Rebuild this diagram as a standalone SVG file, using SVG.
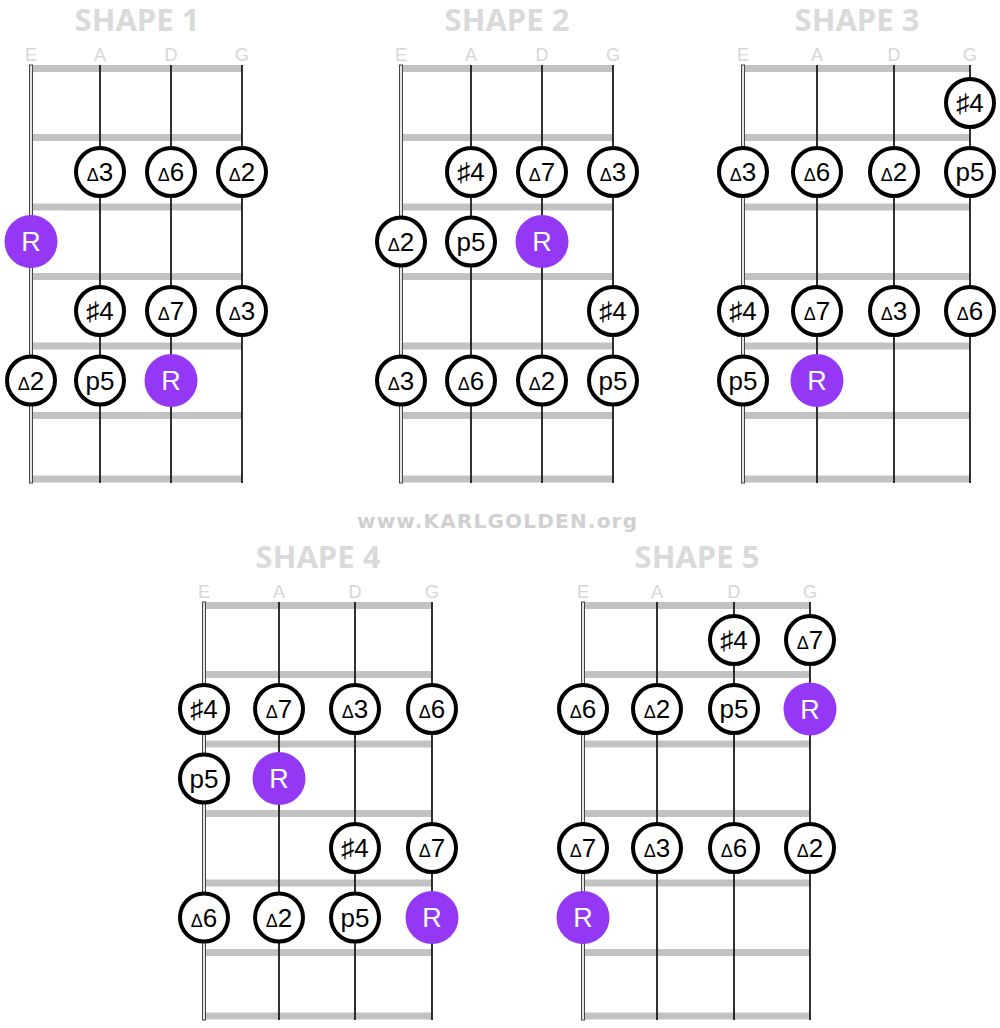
<svg xmlns="http://www.w3.org/2000/svg" width="1000" height="1028" viewBox="0 0 1000 1028">
<style>
.bar{fill:#c2c2c2}
.str{stroke:#1a1a1a;stroke-width:1.8}
.nut{fill:#e4e4e4;stroke:#444;stroke-width:1}
.title{font-family:"Open Sans","Liberation Sans",sans-serif;font-weight:700;font-size:31px;fill:#dadada;text-anchor:middle}
.lbl{font-family:"Liberation Sans",sans-serif;font-size:18px;fill:#d6d6d6;text-anchor:middle}
.wm{font-family:"DejaVu Sans","Liberation Sans",sans-serif;font-weight:700;font-size:20px;fill:#d0d0d0;text-anchor:middle}
.n circle{fill:#fff;stroke:#000;stroke-width:4}
.r circle{fill:#9538f6}
.n text,.r text{font-family:"Liberation Sans","DejaVu Sans",sans-serif;font-size:26px;text-anchor:middle;fill:#000}
.r text{fill:#fff;font-size:27px}
.d{font-size:18px}
</style>
<rect width="1000" height="1028" fill="#fff"/>

<g id="titles">
<text class="title" x="137" y="31">SHAPE 1</text>
<text class="title" x="507" y="31">SHAPE 2</text>
<text class="title" x="857" y="31">SHAPE 3</text>
<text class="title" x="318" y="568">SHAPE 4</text>
<text class="title" x="697" y="568">SHAPE 5</text>
<text class="wm" x="497" y="528" textLength="280" lengthAdjust="spacing">www.KARLGOLDEN.org</text>
</g>

<g id="board1">
<text class="lbl" x="31" y="61">E</text><text class="lbl" x="100" y="61">A</text><text class="lbl" x="171" y="61">D</text><text class="lbl" x="242" y="61">G</text>
<rect class="bar" x="33" y="65" width="209" height="7"/>
<rect class="bar" x="33" y="134" width="209" height="7"/>
<rect class="bar" x="33" y="203.5" width="209" height="7"/>
<rect class="bar" x="33" y="273" width="209" height="7"/>
<rect class="bar" x="33" y="342.5" width="209" height="7"/>
<rect class="bar" x="33" y="412" width="209" height="7"/>
<rect class="bar" x="33" y="475.5" width="209" height="7"/>
<line class="str" x1="100" y1="65" x2="100" y2="483"/>
<line class="str" x1="171" y1="65" x2="171" y2="483"/>
<line class="str" x1="242" y1="65" x2="242" y2="483"/>
<rect class="nut" x="29.5" y="65" width="3" height="418"/>
</g>
<g id="board2">
<text class="lbl" x="401" y="61">E</text><text class="lbl" x="471" y="61">A</text><text class="lbl" x="542" y="61">D</text><text class="lbl" x="613" y="61">G</text>
<rect class="bar" x="403" y="65" width="210" height="7"/>
<rect class="bar" x="403" y="134" width="210" height="7"/>
<rect class="bar" x="403" y="203.5" width="210" height="7"/>
<rect class="bar" x="403" y="273" width="210" height="7"/>
<rect class="bar" x="403" y="342.5" width="210" height="7"/>
<rect class="bar" x="403" y="412" width="210" height="7"/>
<rect class="bar" x="403" y="475.5" width="210" height="7"/>
<line class="str" x1="471" y1="65" x2="471" y2="483"/>
<line class="str" x1="542" y1="65" x2="542" y2="483"/>
<line class="str" x1="613" y1="65" x2="613" y2="483"/>
<rect class="nut" x="399.5" y="65" width="3" height="418"/>
</g>
<g id="board3">
<text class="lbl" x="743" y="61">E</text><text class="lbl" x="817" y="61">A</text><text class="lbl" x="894" y="61">D</text><text class="lbl" x="970" y="61">G</text>
<rect class="bar" x="745" y="65" width="225" height="7"/>
<rect class="bar" x="745" y="134" width="225" height="7"/>
<rect class="bar" x="745" y="203.5" width="225" height="7"/>
<rect class="bar" x="745" y="273" width="225" height="7"/>
<rect class="bar" x="745" y="342.5" width="225" height="7"/>
<rect class="bar" x="745" y="412" width="225" height="7"/>
<rect class="bar" x="745" y="475.5" width="225" height="7"/>
<line class="str" x1="817" y1="65" x2="817" y2="483"/>
<line class="str" x1="894" y1="65" x2="894" y2="483"/>
<line class="str" x1="970" y1="65" x2="970" y2="483"/>
<rect class="nut" x="741.5" y="65" width="3" height="418"/>
</g>
<g id="board4">
<text class="lbl" x="204" y="598">E</text><text class="lbl" x="279" y="598">A</text><text class="lbl" x="355" y="598">D</text><text class="lbl" x="432" y="598">G</text>
<rect class="bar" x="206" y="602" width="226" height="7"/>
<rect class="bar" x="206" y="671" width="226" height="7"/>
<rect class="bar" x="206" y="740.5" width="226" height="7"/>
<rect class="bar" x="206" y="810" width="226" height="7"/>
<rect class="bar" x="206" y="879.5" width="226" height="7"/>
<rect class="bar" x="206" y="949" width="226" height="7"/>
<rect class="bar" x="206" y="1012.5" width="226" height="7"/>
<line class="str" x1="279" y1="602" x2="279" y2="1020"/>
<line class="str" x1="355" y1="602" x2="355" y2="1020"/>
<line class="str" x1="432" y1="602" x2="432" y2="1020"/>
<rect class="nut" x="202.5" y="602" width="3" height="418"/>
</g>
<g id="board5">
<text class="lbl" x="583" y="598">E</text><text class="lbl" x="657" y="598">A</text><text class="lbl" x="734" y="598">D</text><text class="lbl" x="810" y="598">G</text>
<rect class="bar" x="585" y="602" width="225" height="7"/>
<rect class="bar" x="585" y="671" width="225" height="7"/>
<rect class="bar" x="585" y="740.5" width="225" height="7"/>
<rect class="bar" x="585" y="810" width="225" height="7"/>
<rect class="bar" x="585" y="879.5" width="225" height="7"/>
<rect class="bar" x="585" y="949" width="225" height="7"/>
<rect class="bar" x="585" y="1012.5" width="225" height="7"/>
<line class="str" x1="657" y1="602" x2="657" y2="1020"/>
<line class="str" x1="734" y1="602" x2="734" y2="1020"/>
<line class="str" x1="810" y1="602" x2="810" y2="1020"/>
<rect class="nut" x="581.5" y="602" width="3" height="418"/>
</g>
<g id="connectors"></g>

<g id="s1-1" class="n"><circle cx="100" cy="172" r="24"/><text x="100" y="181.3"><tspan class="d">Δ</tspan>3</text></g>
<g id="s1-2" class="n"><circle cx="171" cy="172" r="24"/><text x="171" y="181.3"><tspan class="d">Δ</tspan>6</text></g>
<g id="s1-3" class="n"><circle cx="242" cy="172" r="24"/><text x="242" y="181.3"><tspan class="d">Δ</tspan>2</text></g>
<g id="s1-4" class="r"><circle cx="31" cy="241.5" r="26.5"/><text x="31" y="251.2">R</text></g>
<g id="s1-5" class="n"><circle cx="100" cy="311" r="24"/><text x="100" y="320.3">♯4</text></g>
<g id="s1-6" class="n"><circle cx="171" cy="311" r="24"/><text x="171" y="320.3"><tspan class="d">Δ</tspan>7</text></g>
<g id="s1-7" class="n"><circle cx="242" cy="311" r="24"/><text x="242" y="320.3"><tspan class="d">Δ</tspan>3</text></g>
<g id="s1-8" class="n"><circle cx="31" cy="380.5" r="24"/><text x="31" y="389.8"><tspan class="d">Δ</tspan>2</text></g>
<g id="s1-9" class="n"><circle cx="100" cy="380.5" r="24"/><text x="100" y="389.8">p5</text></g>
<g id="s1-10" class="r"><circle cx="171" cy="380.5" r="26.5"/><text x="171" y="390.2">R</text></g>

<g id="s2-1" class="n"><circle cx="471" cy="172" r="24"/><text x="471" y="181.3">♯4</text></g>
<g id="s2-2" class="n"><circle cx="542" cy="172" r="24"/><text x="542" y="181.3"><tspan class="d">Δ</tspan>7</text></g>
<g id="s2-3" class="n"><circle cx="613" cy="172" r="24"/><text x="613" y="181.3"><tspan class="d">Δ</tspan>3</text></g>
<g id="s2-4" class="n"><circle cx="401" cy="241.5" r="24"/><text x="401" y="250.8"><tspan class="d">Δ</tspan>2</text></g>
<g id="s2-5" class="n"><circle cx="471" cy="241.5" r="24"/><text x="471" y="250.8">p5</text></g>
<g id="s2-6" class="r"><circle cx="542" cy="241.5" r="26.5"/><text x="542" y="251.2">R</text></g>
<g id="s2-7" class="n"><circle cx="613" cy="311" r="24"/><text x="613" y="320.3">♯4</text></g>
<g id="s2-8" class="n"><circle cx="401" cy="380.5" r="24"/><text x="401" y="389.8"><tspan class="d">Δ</tspan>3</text></g>
<g id="s2-9" class="n"><circle cx="471" cy="380.5" r="24"/><text x="471" y="389.8"><tspan class="d">Δ</tspan>6</text></g>
<g id="s2-10" class="n"><circle cx="542" cy="380.5" r="24"/><text x="542" y="389.8"><tspan class="d">Δ</tspan>2</text></g>
<g id="s2-11" class="n"><circle cx="613" cy="380.5" r="24"/><text x="613" y="389.8">p5</text></g>

<g id="s3-1" class="n"><circle cx="970" cy="103" r="24"/><text x="970" y="112.3">♯4</text></g>
<g id="s3-2" class="n"><circle cx="743" cy="172" r="24"/><text x="743" y="181.3"><tspan class="d">Δ</tspan>3</text></g>
<g id="s3-3" class="n"><circle cx="817" cy="172" r="24"/><text x="817" y="181.3"><tspan class="d">Δ</tspan>6</text></g>
<g id="s3-4" class="n"><circle cx="894" cy="172" r="24"/><text x="894" y="181.3"><tspan class="d">Δ</tspan>2</text></g>
<g id="s3-5" class="n"><circle cx="970" cy="172" r="24"/><text x="970" y="181.3">p5</text></g>
<g id="s3-6" class="n"><circle cx="743" cy="311" r="24"/><text x="743" y="320.3">♯4</text></g>
<g id="s3-7" class="n"><circle cx="817" cy="311" r="24"/><text x="817" y="320.3"><tspan class="d">Δ</tspan>7</text></g>
<g id="s3-8" class="n"><circle cx="894" cy="311" r="24"/><text x="894" y="320.3"><tspan class="d">Δ</tspan>3</text></g>
<g id="s3-9" class="n"><circle cx="970" cy="311" r="24"/><text x="970" y="320.3"><tspan class="d">Δ</tspan>6</text></g>
<g id="s3-10" class="n"><circle cx="743" cy="380.5" r="24"/><text x="743" y="389.8">p5</text></g>
<g id="s3-11" class="r"><circle cx="817" cy="380.5" r="26.5"/><text x="817" y="390.2">R</text></g>

<g id="s4-1" class="n"><circle cx="204" cy="709" r="24"/><text x="204" y="718.3">♯4</text></g>
<g id="s4-2" class="n"><circle cx="279" cy="709" r="24"/><text x="279" y="718.3"><tspan class="d">Δ</tspan>7</text></g>
<g id="s4-3" class="n"><circle cx="355" cy="709" r="24"/><text x="355" y="718.3"><tspan class="d">Δ</tspan>3</text></g>
<g id="s4-4" class="n"><circle cx="432" cy="709" r="24"/><text x="432" y="718.3"><tspan class="d">Δ</tspan>6</text></g>
<g id="s4-5" class="n"><circle cx="204" cy="778.5" r="24"/><text x="204" y="787.8">p5</text></g>
<g id="s4-6" class="r"><circle cx="279" cy="778.5" r="26.5"/><text x="279" y="788.2">R</text></g>
<g id="s4-7" class="n"><circle cx="355" cy="848" r="24"/><text x="355" y="857.3">♯4</text></g>
<g id="s4-8" class="n"><circle cx="432" cy="848" r="24"/><text x="432" y="857.3"><tspan class="d">Δ</tspan>7</text></g>
<g id="s4-9" class="n"><circle cx="204" cy="917.5" r="24"/><text x="204" y="926.8"><tspan class="d">Δ</tspan>6</text></g>
<g id="s4-10" class="n"><circle cx="279" cy="917.5" r="24"/><text x="279" y="926.8"><tspan class="d">Δ</tspan>2</text></g>
<g id="s4-11" class="n"><circle cx="355" cy="917.5" r="24"/><text x="355" y="926.8">p5</text></g>
<g id="s4-12" class="r"><circle cx="432" cy="917.5" r="26.5"/><text x="432" y="927.2">R</text></g>

<g id="s5-1" class="n"><circle cx="734" cy="640" r="24"/><text x="734" y="649.3">♯4</text></g>
<g id="s5-2" class="n"><circle cx="810" cy="640" r="24"/><text x="810" y="649.3"><tspan class="d">Δ</tspan>7</text></g>
<g id="s5-3" class="n"><circle cx="583" cy="709" r="24"/><text x="583" y="718.3"><tspan class="d">Δ</tspan>6</text></g>
<g id="s5-4" class="n"><circle cx="657" cy="709" r="24"/><text x="657" y="718.3"><tspan class="d">Δ</tspan>2</text></g>
<g id="s5-5" class="n"><circle cx="734" cy="709" r="24"/><text x="734" y="718.3">p5</text></g>
<g id="s5-6" class="r"><circle cx="810" cy="709" r="26.5"/><text x="810" y="718.7">R</text></g>
<g id="s5-7" class="n"><circle cx="583" cy="848" r="24"/><text x="583" y="857.3"><tspan class="d">Δ</tspan>7</text></g>
<g id="s5-8" class="n"><circle cx="657" cy="848" r="24"/><text x="657" y="857.3"><tspan class="d">Δ</tspan>3</text></g>
<g id="s5-9" class="n"><circle cx="734" cy="848" r="24"/><text x="734" y="857.3"><tspan class="d">Δ</tspan>6</text></g>
<g id="s5-10" class="n"><circle cx="810" cy="848" r="24"/><text x="810" y="857.3"><tspan class="d">Δ</tspan>2</text></g>
<g id="s5-11" class="r"><circle cx="583" cy="917.5" r="26.5"/><text x="583" y="927.2">R</text></g>
</svg>
